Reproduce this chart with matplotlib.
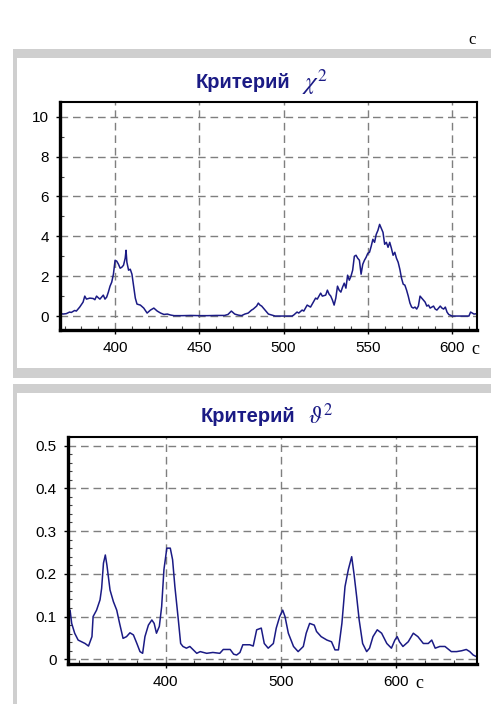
import matplotlib
matplotlib.use("Agg")
import matplotlib.pyplot as plt
from matplotlib.patches import Rectangle
from matplotlib.ticker import MultipleLocator

# ---------------- data ----------------
chi_t = [367, 369, 371, 373, 374, 376, 377, 379, 381, 382, 383, 385, 387, 388, 389, 390,
         391, 392, 393, 394, 395, 396, 397, 398, 399, 400, 401, 402, 403, 404, 405, 406,
         406.5, 407, 408, 409, 410, 411, 412, 413, 415, 417, 419, 421, 423, 425, 427, 429,
         431, 433, 435, 440, 445, 450, 455, 460, 465, 467, 469, 471, 473, 475, 477, 479,
         481, 482, 484, 485, 486, 487, 489, 491, 493, 495, 500, 505, 506, 508, 509, 511,
         512, 514, 516, 517, 519, 520, 522, 523, 525, 526, 527, 528, 529, 530, 531, 532,
         533, 534, 535, 536, 537, 538, 539, 540, 541, 542, 543, 544, 545, 546, 547, 548,
         549, 550, 551, 552, 553, 554, 555, 556, 557, 558, 559, 560, 561, 562, 563, 564,
         565, 566, 567, 568, 569, 570, 571, 572, 573, 574, 575, 576, 577, 578, 579, 580,
         581, 582, 583, 584, 585, 586, 587, 588, 589, 590, 591, 592, 593, 594, 595, 596,
         597, 598, 600, 605, 610, 611, 612, 613, 615]
chi_v = [0.15, 0.1, 0.12, 0.2, 0.18, 0.28, 0.25, 0.45, 0.7, 1.0, 0.85, 0.9, 0.88, 0.82, 1.0,
         0.92, 0.85, 0.95, 1.05, 0.85, 0.95, 1.2, 1.5, 1.7, 2.1, 2.8, 2.75, 2.6, 2.4, 2.45,
         2.55, 2.9, 3.3, 2.7, 2.3, 2.35, 2.1, 1.5, 0.9, 0.6, 0.55, 0.4, 0.15, 0.3, 0.4,
         0.25, 0.15, 0.08, 0.1, 0.05, 0.02, 0.02, 0.03, 0.02, 0.02, 0.03, 0.03, 0.08, 0.25,
         0.1, 0.05, 0.02, 0.1, 0.15, 0.3, 0.35, 0.5, 0.65, 0.55, 0.5, 0.3, 0.1, 0.05, 0.0,
         0.0, 0.0, 0.05, 0.2, 0.15, 0.3, 0.25, 0.55, 0.45, 0.6, 0.9, 0.85, 1.15, 1.0, 1.05,
         1.3, 1.1, 1.0, 0.8, 0.55, 0.9, 1.5, 1.3, 1.2, 1.45, 1.65, 1.4, 2.05, 1.8, 2.0, 2.3,
         3.0, 3.05, 2.9, 2.8, 2.1, 2.6, 2.8, 2.95, 3.15, 3.2, 3.5, 3.85, 3.7, 4.1, 4.3, 4.6,
         4.4, 4.2, 3.6, 3.7, 3.45, 3.7, 3.4, 3.05, 3.2, 2.9, 2.7, 2.35, 1.9, 1.6, 1.55, 1.3,
         1.0, 0.65, 0.45, 0.4, 0.45, 0.35, 0.5, 1.0, 0.9, 0.8, 0.7, 0.5, 0.55, 0.4, 0.45,
         0.5, 0.35, 0.3, 0.4, 0.5, 0.4, 0.35, 0.45, 0.2, 0.08, 0.0, 0.0, 0.0, 0.2, 0.15,
         0.1, 0.12]

th_t = [315.5, 317, 318.4, 321, 324, 327, 330, 333, 336, 337, 340, 343, 344.4, 346, 347.6,
        349, 351.7, 354.6, 357.5, 360, 363, 366, 369, 372, 375, 377.7, 380, 382, 385, 388,
        390, 392, 394.5, 396.5, 398.5, 401, 404, 406, 408, 411, 413, 415, 418, 421, 424,
        427, 430, 435.6, 441, 447, 450, 456, 459, 461.6, 464.5, 467, 473, 476, 479, 483,
        485.6, 489, 493.5, 496, 499, 501.6, 503.6, 506.5, 511, 515, 519.5, 522, 525, 529,
        531, 535, 540, 544, 547, 550, 553, 555.7, 558.6, 561.5, 563.5, 565.8, 568, 571,
        574.5, 577, 580, 583.7, 587.5, 592, 596, 599, 601, 603, 606, 610.6, 615, 619,
        623.7, 628, 631, 634, 638, 642.5, 648, 652.6, 657, 661, 664, 667, 670]
th_v = [0.108, 0.115, 0.084, 0.061, 0.045, 0.041, 0.037, 0.031, 0.053, 0.1, 0.115, 0.139,
        0.166, 0.225, 0.244, 0.22, 0.162, 0.135, 0.115, 0.084, 0.049, 0.053, 0.062, 0.057,
        0.037, 0.018, 0.014, 0.053, 0.08, 0.092, 0.084, 0.061, 0.077, 0.123, 0.21, 0.26,
        0.26, 0.233, 0.17, 0.092, 0.037, 0.03, 0.026, 0.03, 0.022, 0.014, 0.018, 0.014,
        0.016, 0.014, 0.023, 0.023, 0.012, 0.01, 0.016, 0.034, 0.034, 0.031, 0.069, 0.073,
        0.037, 0.026, 0.037, 0.073, 0.1, 0.115, 0.1, 0.061, 0.03, 0.018, 0.03, 0.061,
        0.084, 0.08, 0.065, 0.053, 0.045, 0.041, 0.022, 0.022, 0.084, 0.17, 0.21, 0.24,
        0.2, 0.147, 0.092, 0.037, 0.018, 0.026, 0.053, 0.069, 0.061, 0.037, 0.026, 0.045,
        0.053, 0.041, 0.03, 0.041, 0.061, 0.053, 0.037, 0.037, 0.045, 0.026, 0.03, 0.03,
        0.018, 0.018, 0.02, 0.023, 0.018, 0.01, 0.006]

chi_xticks = [400, 450, 500, 550, 600]
chi_yticks = [0, 2, 4, 6, 8, 10]
th_xticks = [400, 500, 600]
th_yticks = [0, 0.1, 0.2, 0.3, 0.4, 0.5]
th_yticklabels = ["0", "0.1", "0.2", "0.3", "0.4", "0.5"]

# ---------------- style ----------------
W, H = 491, 704
fig = plt.figure(figsize=(W / 100, H / 100), dpi=100)
fig.patch.set_facecolor("white")
plt.rcParams["mathtext.fontset"] = "stix"

navy = "#1b1b85"
gray_frame = "#cfcfcf"
grid_c = "#7f7f7f"


def px_rect(x0, y0, x1, y1, color):
    fig.patches.append(Rectangle((x0 / W, 1 - y1 / H), (x1 - x0) / W, (y1 - y0) / H,
                                 transform=fig.transFigure, facecolor=color,
                                 edgecolor="none", zorder=-10))


# panel frames
px_rect(13, 49, 491, 378, gray_frame)
px_rect(17, 58, 491, 368, "white")
px_rect(13, 384, 491, 704, gray_frame)
px_rect(17, 393, 491, 704, "white")


def make_axes(l, t, r, b):
    return fig.add_axes([l / W, 1 - b / H, (r - l) / W, (b - t) / H], zorder=5)


def style(ax, xt, yt, yl, xminor, yminor):
    ax.set_xticks(xt)
    ax.set_yticks(yt)
    if yl is not None:
        ax.set_yticklabels(yl)
    ax.xaxis.set_minor_locator(MultipleLocator(xminor))
    ax.yaxis.set_minor_locator(MultipleLocator(yminor))
    ax.grid(True, which="major", color=grid_c, linestyle=(0, (5.5, 3.5)), linewidth=1.0)
    ax.tick_params(which="major", direction="out", length=3, width=1, labelsize=11,
                   pad=5, colors="black")
    ax.tick_params(which="minor", direction="in", length=3, width=0.8, colors="#444444")
    for lab in ax.get_xticklabels() + ax.get_yticklabels():
        lab.set_fontfamily("Liberation Sans")
    for s in ("left", "bottom"):
        ax.spines[s].set_linewidth(2.4)
    for s in ("top", "right"):
        ax.spines[s].set_linewidth(1.5)
    ax.set_facecolor("white")


# ---- chart 1 ----
ax1 = make_axes(60, 102, 477, 330)
ax1.plot(chi_t, chi_v, color=navy, linewidth=1.1)
ax1.set_xlim(367.3, 614.8)
ax1.set_ylim(-0.70, 10.74)
style(ax1, chi_xticks, chi_yticks, None, 10, 1)

# ---- chart 2 ----
ax2 = make_axes(68, 437, 477, 664)
ax2.plot(th_t, th_v, color=navy, linewidth=1.1)
ax2.set_xlim(315.2, 670.3)
ax2.set_ylim(-0.011, 0.520)
style(ax2, th_xticks, th_yticks, th_yticklabels, 25, 0.02)

# ---- titles ----
fig.text(290 / W, 1 - 83 / H, "Критерий", ha="right", va="center", fontsize=14.5,
         fontweight="bold", color=navy, family="Liberation Sans")
fig.text(302 / W, 1 - 82 / H, r"$\chi^{2}$", ha="left", va="center", fontsize=18,
         color=navy)
fig.text(295 / W, 1 - 417 / H, "Критерий", ha="right", va="center", fontsize=14.5,
         fontweight="bold", color=navy, family="Liberation Sans")
fig.text(308 / W, 1 - 416 / H, r"$\vartheta^{2}$", ha="left", va="center", fontsize=17,
         color=navy)

# ---- "c" labels ----
fig.text(472 / W, 1 - 40 / H, "c", ha="center", va="center", fontsize=12,
         family="Liberation Serif")
fig.text(475 / W, 1 - 349 / H, "c", ha="center", va="center", fontsize=13,
         family="Liberation Serif", zorder=10)
fig.text(419 / W, 1 - 684 / H, "c", ha="center", va="center", fontsize=13,
         family="Liberation Serif", zorder=10)

fig.savefig("out.png", dpi=100)
